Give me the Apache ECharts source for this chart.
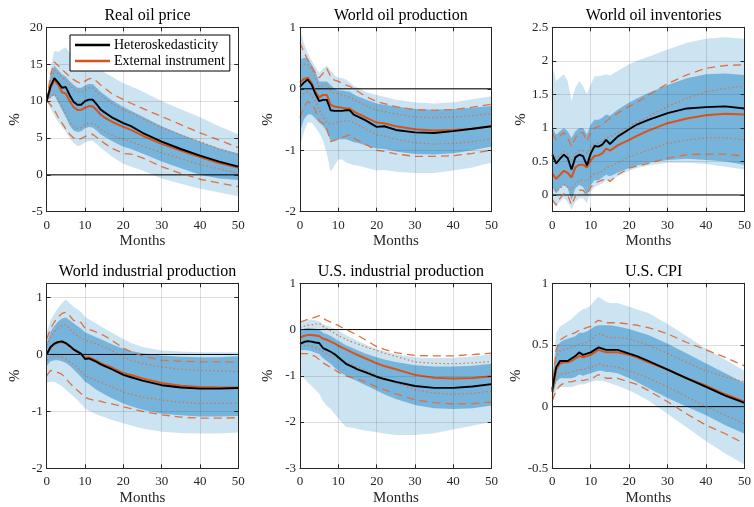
<!DOCTYPE html>
<html><head><meta charset="utf-8">
<script src="https://cdn.jsdelivr.net/npm/echarts@6/dist/echarts.min.js"></script>
<style>html,body{margin:0;padding:0;background:#fff}#c{width:754px;height:507px}</style>
</head><body><div id="c"></div>
<script>
// ---------- data ----------
const months = [0,1,2,3,4,5,6,7,8,9,10,11,12,13,14,15,17,20,22,25,30,35,40,45,50];
const titles = ['Real oil price','World oil production','World oil inventories','World industrial production','U.S. industrial production','U.S. CPI'];
const yMin = [-5,-2,-0.25,-2,-3,-0.5];
const yMax = [20,1,2.5,1.25,1,1];
const yTicks = [[-5,0,5,10,15,20],[-2,-1,0,1],[0,0.5,1,1.5,2,2.5],[-2,-1,0,1],[-3,-2,-1,0,1],[-0.5,0,0.5,1]];
const xTicks = [0,10,20,30,40,50];
const legendNames = ['Heteroskedasticity','External instrument'];

// Real oil price
const p1_black  = [10.0,12.0,13.1,12.5,11.8,11.9,10.8,9.9,9.5,9.5,10.0,10.2,10.2,9.6,8.9,8.5,7.8,7.0,6.6,5.7,4.5,3.5,2.6,1.8,1.1];
const p1_orange = [10.0,11.8,12.8,12.2,11.2,11.0,10.0,9.2,8.8,8.8,9.1,9.3,9.3,8.8,8.2,7.8,7.2,6.5,6.1,5.3,4.2,3.3,2.4,1.6,1.0];
const p1_lightUp= [10,14.5,16.8,16.7,17.0,17.3,16.5,15.8,15.3,15.1,15.1,15.3,15.2,14.8,14.3,13.9,13.3,12.4,12.0,11.3,10.0,8.9,7.8,6.6,5.5];
const p1_lightLo= [10,9.0,8.0,7.2,6.5,5.8,5.0,4.3,3.9,4.0,4.4,4.6,4.6,4.2,3.7,3.3,2.5,1.5,1.1,0.6,-0.5,-1.2,-1.9,-2.4,-2.9];
const p1_darkUp = [10,13.5,14.8,14.2,13.6,13.3,12.7,12.2,11.8,11.8,12.1,12.3,12.3,11.8,11.3,10.9,10.1,9.2,8.7,7.9,6.6,5.5,4.5,3.6,2.9];
const p1_darkLo = [10,10.5,10.8,9.8,8.8,7.8,6.7,6.0,5.8,5.9,6.3,6.5,6.4,6.0,5.5,5.2,4.6,3.8,3.5,2.9,1.8,0.9,0.0,-0.5,-0.7];
const p1_dashUp = [10,13.5,15.3,14.8,14.3,13.8,13.3,12.9,12.6,12.4,12.7,13.0,13.1,12.7,12.2,11.8,11.0,10.2,9.7,9.0,7.9,6.8,5.7,4.7,3.7];
const p1_dashLo = [10,9.5,8.8,7.8,7.0,6.2,5.5,5.0,4.8,4.9,5.2,5.4,5.5,5.1,4.7,4.3,3.6,2.9,2.8,2.3,1.1,0.2,-0.6,-1.1,-1.6];
const p1_dotUp  = [10,12.8,14.2,13.7,13.2,12.8,12.2,11.6,11.3,11.2,11.5,11.8,11.8,11.3,10.8,10.4,9.7,8.8,8.4,7.6,6.4,5.4,4.5,3.5,2.7];
const p1_dotLo  = [10,10.5,11.0,10.2,9.3,8.3,7.2,6.5,6.3,6.4,6.8,7.0,7.0,6.7,6.2,5.9,5.4,4.8,4.5,3.9,3.0,2.2,1.4,0.8,0.2];

// World oil production
const p2_black  = [0.03,0.1,0.15,0.07,-0.08,-0.2,-0.18,-0.18,-0.35,-0.36,-0.36,-0.36,-0.35,-0.35,-0.42,-0.45,-0.51,-0.62,-0.61,-0.67,-0.71,-0.72,-0.69,-0.65,-0.61];
const p2_orange = [0.1,0.16,0.18,0.1,-0.05,-0.14,-0.1,-0.1,-0.26,-0.29,-0.3,-0.31,-0.32,-0.32,-0.37,-0.4,-0.46,-0.55,-0.56,-0.61,-0.66,-0.68,-0.67,-0.65,-0.61];
const p2_lightUp= [0.98,0.75,0.58,0.47,0.36,0.26,0.32,0.38,0.3,0.22,0.18,0.17,0.15,0.1,0.05,0.02,-0.05,-0.1,-0.13,-0.18,-0.22,-0.24,-0.22,-0.17,-0.12];
const p2_lightLo= [-0.95,-0.7,-0.55,-0.55,-0.62,-0.72,-0.85,-1.05,-1.35,-1.25,-1.15,-1.15,-1.2,-1.22,-1.24,-1.25,-1.28,-1.33,-1.32,-1.35,-1.37,-1.37,-1.33,-1.28,-1.2];
const p2_darkUp = [0.48,0.5,0.5,0.4,0.28,0.12,0.12,0.12,0.06,0.0,-0.03,-0.03,-0.04,-0.05,-0.09,-0.12,-0.17,-0.24,-0.26,-0.29,-0.33,-0.34,-0.33,-0.31,-0.28];
const p2_darkLo = [-0.7,-0.5,-0.42,-0.42,-0.48,-0.55,-0.6,-0.7,-0.85,-0.84,-0.82,-0.82,-0.82,-0.84,-0.87,-0.88,-0.92,-0.97,-0.98,-1.02,-1.06,-1.07,-1.05,-1.0,-0.94];
const p2_dashUp = [0.75,0.6,0.47,0.36,0.26,0.18,0.25,0.33,0.2,0.14,0.12,0.09,0.06,0.04,0.0,-0.04,-0.12,-0.21,-0.24,-0.29,-0.34,-0.35,-0.34,-0.3,-0.25];
const p2_dashLo = [-0.47,-0.3,-0.21,-0.24,-0.35,-0.52,-0.56,-0.65,-0.86,-0.84,-0.82,-0.79,-0.77,-0.75,-0.8,-0.84,-0.9,-1.0,-1.02,-1.06,-1.1,-1.1,-1.09,-1.05,-1.0];
const p2_dotUp  = [0.38,0.4,0.4,0.32,0.18,0.03,0.05,0.07,-0.05,-0.07,-0.08,-0.1,-0.12,-0.14,-0.17,-0.2,-0.27,-0.35,-0.37,-0.41,-0.46,-0.47,-0.46,-0.44,-0.4];
const p2_dotLo  = [-0.13,-0.08,-0.05,-0.1,-0.2,-0.35,-0.45,-0.55,-0.58,-0.56,-0.54,-0.53,-0.52,-0.52,-0.55,-0.58,-0.65,-0.75,-0.77,-0.82,-0.88,-0.9,-0.89,-0.86,-0.81];

// World oil inventories
const p3_black  = [0.6,0.47,0.54,0.6,0.55,0.38,0.56,0.6,0.58,0.44,0.62,0.73,0.72,0.75,0.82,0.76,0.87,0.98,1.05,1.12,1.22,1.29,1.31,1.32,1.29];
const p3_orange = [0.32,0.24,0.3,0.36,0.33,0.26,0.41,0.45,0.45,0.41,0.52,0.58,0.59,0.62,0.69,0.66,0.74,0.82,0.88,0.96,1.07,1.14,1.19,1.21,1.2];
const p3_lightUp= [1.92,1.7,1.75,1.8,1.7,1.4,1.6,1.7,1.62,1.5,1.65,1.77,1.77,1.78,1.8,1.78,1.85,1.95,2.0,2.06,2.17,2.27,2.33,2.35,2.33];
const p3_lightLo= [-0.1,-0.18,-0.1,-0.05,-0.1,-0.22,-0.1,-0.05,-0.05,-0.12,0.05,0.12,0.14,0.17,0.22,0.2,0.28,0.36,0.4,0.44,0.48,0.48,0.46,0.42,0.38];
const p3_darkUp = [1.0,0.9,0.95,1.0,0.95,0.85,0.95,1.0,1.0,0.9,1.05,1.12,1.12,1.15,1.2,1.18,1.27,1.38,1.44,1.52,1.64,1.74,1.8,1.81,1.79];
const p3_darkLo = [0.12,0.02,0.1,0.15,0.1,-0.08,0.1,0.15,0.12,0.0,0.15,0.22,0.22,0.26,0.3,0.28,0.33,0.4,0.44,0.48,0.52,0.54,0.52,0.5,0.45];
const p3_dashUp = [0.92,0.82,0.88,0.93,0.85,0.72,0.85,0.93,0.93,0.8,0.94,1.0,1.02,1.05,1.1,1.14,1.22,1.32,1.38,1.49,1.66,1.79,1.89,1.93,1.94];
const p3_dashLo = [-0.07,-0.15,-0.05,0.02,0.0,-0.15,-0.02,0.07,0.07,0.0,0.12,0.17,0.2,0.22,0.25,0.2,0.3,0.4,0.43,0.47,0.55,0.6,0.61,0.61,0.58];
const p3_dotUp  = [0.62,0.55,0.6,0.65,0.62,0.52,0.62,0.66,0.66,0.62,0.72,0.76,0.77,0.8,0.85,0.87,0.93,1.02,1.08,1.17,1.32,1.44,1.54,1.59,1.62];
const p3_dotLo  = [0.12,0.05,0.1,0.15,0.12,0.07,0.17,0.22,0.22,0.2,0.27,0.32,0.33,0.36,0.4,0.42,0.48,0.57,0.61,0.67,0.77,0.82,0.85,0.85,0.82];

// World industrial production
const p4_black  = [0,0.13,0.19,0.22,0.23,0.2,0.15,0.09,0.05,0.01,-0.08,-0.07,-0.1,-0.13,-0.17,-0.2,-0.26,-0.36,-0.4,-0.46,-0.54,-0.58,-0.6,-0.6,-0.59];
const p4_orange = [0,0.12,0.18,0.21,0.22,0.19,0.14,0.09,0.05,0.01,-0.06,-0.05,-0.08,-0.11,-0.15,-0.18,-0.23,-0.33,-0.36,-0.42,-0.5,-0.55,-0.57,-0.58,-0.58];
const p4_lightUp= [0.38,0.6,0.72,0.82,0.9,0.97,0.9,0.84,0.8,0.74,0.66,0.62,0.58,0.54,0.5,0.46,0.38,0.27,0.2,0.13,0.07,0.05,0.04,0.04,0.04];
const p4_lightLo= [-0.5,-0.48,-0.48,-0.52,-0.56,-0.62,-0.68,-0.74,-0.8,-0.87,-0.95,-0.99,-1.02,-1.05,-1.08,-1.1,-1.15,-1.21,-1.25,-1.3,-1.36,-1.38,-1.39,-1.39,-1.37];
const p4_darkUp = [0.2,0.4,0.5,0.58,0.63,0.65,0.6,0.55,0.5,0.45,0.39,0.36,0.33,0.3,0.27,0.24,0.18,0.1,0.06,0.02,-0.02,-0.04,-0.05,-0.05,-0.03];
const p4_darkLo = [-0.2,-0.12,-0.1,-0.1,-0.12,-0.15,-0.2,-0.26,-0.33,-0.4,-0.48,-0.52,-0.57,-0.62,-0.66,-0.7,-0.77,-0.86,-0.91,-0.97,-1.04,-1.07,-1.09,-1.09,-1.08];
const p4_dashUp = [0.27,0.45,0.57,0.66,0.72,0.74,0.68,0.6,0.58,0.56,0.46,0.44,0.42,0.39,0.36,0.33,0.25,0.11,0.05,-0.03,-0.1,-0.12,-0.13,-0.13,-0.13];
const p4_dashLo = [-0.37,-0.28,-0.3,-0.32,-0.35,-0.42,-0.5,-0.57,-0.63,-0.69,-0.75,-0.78,-0.8,-0.81,-0.82,-0.84,-0.87,-0.92,-0.95,-1.0,-1.06,-1.1,-1.12,-1.12,-1.11];
const p4_dotUp  = [0.16,0.3,0.4,0.47,0.51,0.52,0.46,0.38,0.33,0.28,0.25,0.23,0.21,0.18,0.16,0.13,0.07,-0.05,-0.1,-0.16,-0.22,-0.26,-0.28,-0.29,-0.3];
const p4_dotLo  = [-0.1,-0.05,-0.04,-0.04,-0.05,-0.08,-0.13,-0.18,-0.23,-0.3,-0.37,-0.4,-0.43,-0.46,-0.49,-0.51,-0.57,-0.66,-0.7,-0.75,-0.8,-0.84,-0.86,-0.86,-0.86];

// U.S. industrial production
const p5_black  = [-0.31,-0.27,-0.25,-0.26,-0.28,-0.29,-0.4,-0.44,-0.48,-0.53,-0.6,-0.67,-0.74,-0.78,-0.82,-0.86,-0.92,-1.02,-1.07,-1.13,-1.22,-1.26,-1.26,-1.23,-1.18];
const p5_orange = [-0.18,-0.14,-0.12,-0.12,-0.13,-0.14,-0.2,-0.22,-0.26,-0.3,-0.35,-0.39,-0.43,-0.47,-0.51,-0.55,-0.62,-0.73,-0.79,-0.86,-0.98,-1.04,-1.06,-1.05,-1.01];
const p5_lightUp= [0.18,0.2,0.22,0.22,0.2,0.18,0.12,0.08,0.05,0.02,-0.02,-0.07,-0.12,-0.16,-0.2,-0.24,-0.32,-0.42,-0.47,-0.53,-0.6,-0.62,-0.61,-0.58,-0.53];
const p5_lightLo= [-0.95,-1.05,-1.14,-1.22,-1.3,-1.38,-1.55,-1.65,-1.72,-1.82,-1.92,-2.02,-2.1,-2.12,-2.13,-2.15,-2.18,-2.22,-2.25,-2.28,-2.28,-2.24,-2.16,-2.08,-2.0];
const p5_darkUp = [-0.02,0.02,0.04,0.03,0.02,0.0,-0.07,-0.1,-0.14,-0.19,-0.24,-0.29,-0.34,-0.37,-0.41,-0.45,-0.52,-0.6,-0.65,-0.7,-0.77,-0.8,-0.8,-0.78,-0.74];
const p5_darkLo = [-0.45,-0.44,-0.45,-0.47,-0.5,-0.53,-0.62,-0.68,-0.74,-0.82,-0.89,-0.95,-1.0,-1.04,-1.08,-1.12,-1.2,-1.32,-1.4,-1.5,-1.63,-1.7,-1.72,-1.7,-1.64];
const p5_dashUp = [0.16,0.19,0.22,0.24,0.27,0.3,0.24,0.2,0.16,0.12,0.09,0.04,0.0,-0.04,-0.08,-0.12,-0.22,-0.37,-0.43,-0.5,-0.56,-0.57,-0.57,-0.54,-0.51];
const p5_dashLo = [-0.52,-0.52,-0.52,-0.55,-0.58,-0.65,-0.72,-0.77,-0.82,-0.87,-0.92,-0.96,-1.0,-1.03,-1.05,-1.07,-1.13,-1.24,-1.3,-1.39,-1.52,-1.58,-1.61,-1.6,-1.57];
const p5_dotUp  = [0.04,0.07,0.09,0.1,0.12,0.13,0.07,0.02,-0.03,-0.08,-0.13,-0.17,-0.21,-0.25,-0.28,-0.31,-0.37,-0.45,-0.51,-0.58,-0.7,-0.73,-0.74,-0.72,-0.69];
const p5_dotLo  = [-0.38,-0.35,-0.34,-0.36,-0.38,-0.42,-0.48,-0.53,-0.57,-0.6,-0.63,-0.67,-0.7,-0.74,-0.78,-0.81,-0.88,-0.99,-1.06,-1.15,-1.3,-1.37,-1.4,-1.38,-1.33];

// U.S. CPI
const p6_black  = [0.14,0.32,0.37,0.37,0.37,0.39,0.41,0.44,0.42,0.43,0.44,0.46,0.48,0.47,0.46,0.46,0.46,0.43,0.41,0.37,0.3,0.23,0.16,0.09,0.03];
const p6_orange = [0.12,0.3,0.35,0.36,0.36,0.37,0.39,0.41,0.4,0.41,0.42,0.44,0.46,0.45,0.44,0.44,0.44,0.42,0.4,0.36,0.3,0.23,0.17,0.1,0.04];
const p6_lightUp= [0.25,0.6,0.65,0.67,0.69,0.71,0.74,0.77,0.79,0.8,0.82,0.86,0.89,0.87,0.85,0.84,0.84,0.81,0.79,0.76,0.67,0.57,0.47,0.38,0.29];
const p6_lightLo= [0.03,0.13,0.16,0.16,0.16,0.16,0.17,0.18,0.18,0.19,0.2,0.21,0.21,0.21,0.2,0.19,0.17,0.13,0.1,0.05,-0.06,-0.17,-0.28,-0.38,-0.47];
const p6_darkUp = [0.2,0.48,0.52,0.54,0.55,0.56,0.57,0.6,0.6,0.61,0.63,0.65,0.66,0.66,0.66,0.66,0.65,0.63,0.61,0.58,0.51,0.43,0.35,0.27,0.19];
const p6_darkLo = [0.08,0.2,0.23,0.23,0.23,0.23,0.24,0.26,0.25,0.26,0.27,0.28,0.29,0.29,0.28,0.28,0.27,0.23,0.2,0.15,0.07,0.0,-0.07,-0.15,-0.22];
const p6_dashUp = [0.13,0.46,0.54,0.56,0.58,0.59,0.6,0.62,0.63,0.64,0.65,0.68,0.7,0.69,0.68,0.68,0.68,0.67,0.66,0.64,0.59,0.52,0.46,0.4,0.33];
const p6_dashLo = [0.05,0.13,0.17,0.19,0.2,0.2,0.21,0.22,0.21,0.22,0.22,0.24,0.26,0.25,0.23,0.23,0.23,0.2,0.18,0.13,0.04,-0.06,-0.15,-0.22,-0.3];
const p6_dotUp  = [0.13,0.4,0.45,0.46,0.47,0.48,0.49,0.51,0.51,0.52,0.54,0.57,0.59,0.58,0.57,0.56,0.56,0.55,0.53,0.5,0.43,0.36,0.29,0.24,0.2];
const p6_dotLo  = [0.09,0.23,0.26,0.27,0.27,0.28,0.29,0.3,0.3,0.31,0.32,0.33,0.35,0.34,0.33,0.33,0.32,0.29,0.27,0.23,0.16,0.08,0.0,-0.07,-0.14];

// ---------- build ----------
const panels = [
  {black:p1_black,orange:p1_orange,lightUp:p1_lightUp,lightLo:p1_lightLo,darkUp:p1_darkUp,darkLo:p1_darkLo,dashUp:p1_dashUp,dashLo:p1_dashLo,dotUp:p1_dotUp,dotLo:p1_dotLo},
  {black:p2_black,orange:p2_orange,lightUp:p2_lightUp,lightLo:p2_lightLo,darkUp:p2_darkUp,darkLo:p2_darkLo,dashUp:p2_dashUp,dashLo:p2_dashLo,dotUp:p2_dotUp,dotLo:p2_dotLo},
  {black:p3_black,orange:p3_orange,lightUp:p3_lightUp,lightLo:p3_lightLo,darkUp:p3_darkUp,darkLo:p3_darkLo,dashUp:p3_dashUp,dashLo:p3_dashLo,dotUp:p3_dotUp,dotLo:p3_dotLo},
  {black:p4_black,orange:p4_orange,lightUp:p4_lightUp,lightLo:p4_lightLo,darkUp:p4_darkUp,darkLo:p4_darkLo,dashUp:p4_dashUp,dashLo:p4_dashLo,dotUp:p4_dotUp,dotLo:p4_dotLo},
  {black:p5_black,orange:p5_orange,lightUp:p5_lightUp,lightLo:p5_lightLo,darkUp:p5_darkUp,darkLo:p5_darkLo,dashUp:p5_dashUp,dashLo:p5_dashLo,dotUp:p5_dotUp,dotLo:p5_dotLo},
  {black:p6_black,orange:p6_orange,lightUp:p6_lightUp,lightLo:p6_lightLo,darkUp:p6_darkUp,darkLo:p6_darkLo,dashUp:p6_dashUp,dashLo:p6_dashLo,dotUp:p6_dotUp,dotLo:p6_dotLo}
];

const F = '"Liberation Serif", "Times New Roman", serif';
const AX = '#262626';
const colLeft = [46.7, 300, 552.3];
const colWidth = [191.6, 191.6, 192.7];
const rowTop = [27.3, 283.3];
const rowHeight = [184.4, 185];

const pts = arr => months.map((m,k) => [m, arr[k]]);

const grids = [], xAxes = [], yAxes = [], series = [], titleArr = [];
panels.forEach((p, i) => {
  const r = Math.floor(i / 3), c = i % 3;
  grids.push({left: colLeft[c], top: rowTop[r], width: colWidth[c], height: rowHeight[r], containLabel: false});
  titleArr.push({text: titles[i], left: colLeft[c] + colWidth[c] / 2, top: rowTop[r] - 25, textAlign: 'center',
    textStyle: {fontFamily: F, fontSize: 16, fontWeight: 'normal', color: '#000'}});
  const common = {gridIndex: i, type: 'value', z: 10};
  xAxes.push(Object.assign({}, common, {min: 0, max: 50, position: 'bottom',
    axisLine: {show: true, onZero: false, lineStyle: {color: AX, width: 1}},
    axisTick: {show: true, inside: true, length: 4, customValues: xTicks, lineStyle: {color: AX}},
    axisLabel: {customValues: xTicks, color: AX, fontFamily: F, fontSize: 13, margin: 7},
    splitLine: {show: true, lineStyle: {color: 'rgba(38,38,38,0.15)', width: 1}},
    name: 'Months', nameLocation: 'middle', nameGap: 22,
    nameTextStyle: {fontFamily: F, fontSize: 15, color: AX}}));
  xAxes.push(Object.assign({}, common, {min: 0, max: 50, position: 'top',
    axisLine: {show: true, onZero: false, lineStyle: {color: AX, width: 1}},
    axisTick: {show: true, inside: true, length: 4, customValues: xTicks, lineStyle: {color: AX}},
    axisLabel: {show: false}, splitLine: {show: false}}));
  yAxes.push(Object.assign({}, common, {min: yMin[i], max: yMax[i], position: 'left',
    axisLine: {show: true, onZero: false, lineStyle: {color: AX, width: 1}},
    axisTick: {show: true, inside: true, length: 4, customValues: yTicks[i], lineStyle: {color: AX}},
    axisLabel: {customValues: yTicks[i], color: AX, fontFamily: F, fontSize: 13, margin: 4},
    splitLine: {show: true, lineStyle: {color: 'rgba(38,38,38,0.15)', width: 1}},
    name: '%', nameLocation: 'middle', nameGap: 24, nameRotate: 90,
    nameTextStyle: {fontFamily: F, fontSize: 15, color: AX}}));
  yAxes.push(Object.assign({}, common, {min: yMin[i], max: yMax[i], position: 'right',
    axisLine: {show: true, onZero: false, lineStyle: {color: AX, width: 1}},
    axisTick: {show: true, inside: true, length: 4, customValues: yTicks[i], lineStyle: {color: AX}},
    axisLabel: {show: false}, splitLine: {show: false}}));

  const ax = {xAxisIndex: 2 * i, yAxisIndex: 2 * i, animation: false, silent: true};
  const band = (lo, up, color) => Object.assign({
    type: 'custom', z: 2,
    data: months.map((m, k) => [m, lo[k], up[k]]),
    encode: {x: 0, y: [1, 2]},
    renderItem: (params, api) => {
      if (params.dataIndexInside !== 0) return null;
      const n = params.dataInsideLength;
      const top = [], bot = [];
      for (let j = 0; j < n; j++) {
        top.push(api.coord([api.value(0, j), api.value(2, j)]));
        bot.push(api.coord([api.value(0, j), api.value(1, j)]));
      }
      return {type: 'polygon', shape: {points: top.concat(bot.reverse())}, style: {fill: color}};
    }
  }, ax);
  series.push(band(p.lightLo, p.lightUp, 'rgba(0,114,189,0.2)'));
  series.push(band(p.darkLo, p.darkUp, 'rgba(0,114,189,0.42)'));
  const ln = {symbol: 'none'};
  series.push(Object.assign({type: 'line', data: [[0, 0], [50, 0]], z: 3,
    lineStyle: {color: '#000', width: 1}}, ax, ln));
  [p.dashUp, p.dashLo].forEach(a => series.push(Object.assign({type: 'line', data: pts(a), z: 4,
    lineStyle: {color: '#e0703f', width: 1.3, type: [8, 5]}}, ax, ln)));
  [p.dotUp, p.dotLo].forEach(a => series.push(Object.assign({type: 'line', data: pts(a), z: 4,
    lineStyle: {color: '#e0703f', width: 1.2, type: [1.5, 2.5]}}, ax, ln)));
  series.push(Object.assign({type: 'line', name: legendNames[1], data: pts(p.orange), z: 5,
    lineStyle: {color: '#d95319', width: 2}, itemStyle: {color: '#d95319'}}, ax, ln));
  series.push(Object.assign({type: 'line', name: legendNames[0], data: pts(p.black), z: 6,
    lineStyle: {color: '#000', width: 1.9}, itemStyle: {color: '#000'}}, ax, ln));
});

const chart = echarts.init(document.getElementById('c'), null, {renderer: 'canvas'});
chart.setOption({
  animation: false,
  backgroundColor: '#fff',
  title: titleArr,
  grid: grids,
  xAxis: xAxes,
  yAxis: yAxes,
  legend: {
    data: [{name: legendNames[0], icon: 'rect'}, {name: legendNames[1], icon: 'rect'}],
    orient: 'vertical', left: 70, top: 35, z: 20,
    backgroundColor: '#fff', borderColor: '#000', borderWidth: 1,
    padding: [3, 5, 3, 5], itemGap: 2, itemWidth: 35, itemHeight: 2.5,
    selectedMode: false,
    textStyle: {fontFamily: F, fontSize: 14, color: '#000', padding: [0, 0, 0, -1]}
  },
  series: series
});
</script>
</body></html>
